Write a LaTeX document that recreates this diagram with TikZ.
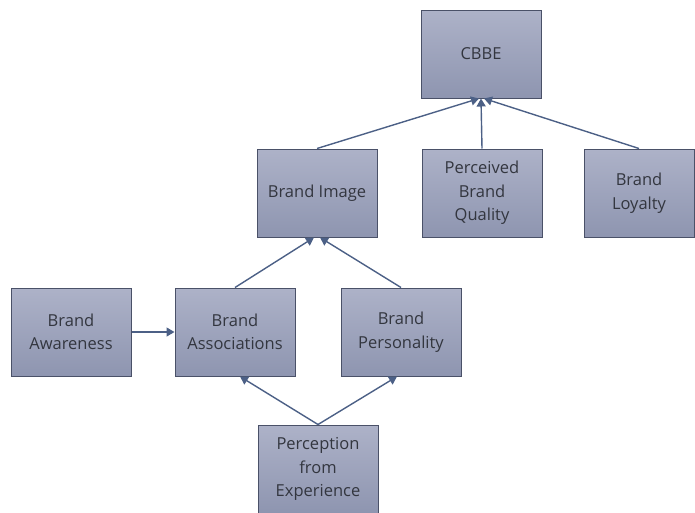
\documentclass[tikz,border=0pt]{standalone}
\usepackage{fontspec}
\setmainfont{Open Sans}
\usetikzlibrary{arrows.meta}
\definecolor{boxtop}{HTML}{ADB2C8}
\definecolor{boxbot}{HTML}{8E95B0}
\definecolor{boxline}{HTML}{4A5168}
\definecolor{arr}{HTML}{4C6086}
\definecolor{txt}{HTML}{33363F}
\begin{document}
\begin{tikzpicture}[x=1pt,y=-1pt,
  bx/.style={draw=boxline,line width=1pt,top color=boxtop,bottom color=boxbot,
    minimum width=120pt,minimum height=88pt,inner sep=1pt,align=center,
    text=txt,font=\fontsize{16.5}{23.5}\selectfont},
  ar/.style={draw=arr,line width=1.4pt,-{Triangle[width=9pt,length=8pt]}}]
\useasboundingbox (0,0) rectangle (695,512);
\node[bx] (cbbe) at (481,54) {CBBE};
\node[bx] (img) at (317,193) {Brand Image};
\node[bx] (qual) at (482,193) {Perceived\\Brand\\Quality};
\node[bx,minimum width=110pt] (loy) at (639,193) {Brand\\Loyalty};
\node[bx] (aw) at (71,332) {Brand\\Awareness};
\node[bx] (as) at (235,332) {Brand\\Associations};
\node[bx] (pe) at (401,332) {Brand\\Personality};
\node[bx] (exp) at (318,469) {Perception\\from\\Experience};
\draw[ar] (img.north) -- ([xshift=-2pt]cbbe.south);
\draw[ar] (qual.north) -- (cbbe.south);
\draw[ar] (loy.north) -- ([xshift=3pt]cbbe.south);
\draw[ar] (as.north) -- ([xshift=-3pt]img.south);
\draw[ar] (pe.north) -- ([xshift=3pt]img.south);
\draw[ar] (exp.north) -- ([xshift=5pt]as.south);
\draw[ar] (exp.north) -- ([xshift=-4pt]pe.south);
\draw[ar] (aw.east) -- (as.west);
\end{tikzpicture}
\end{document}
